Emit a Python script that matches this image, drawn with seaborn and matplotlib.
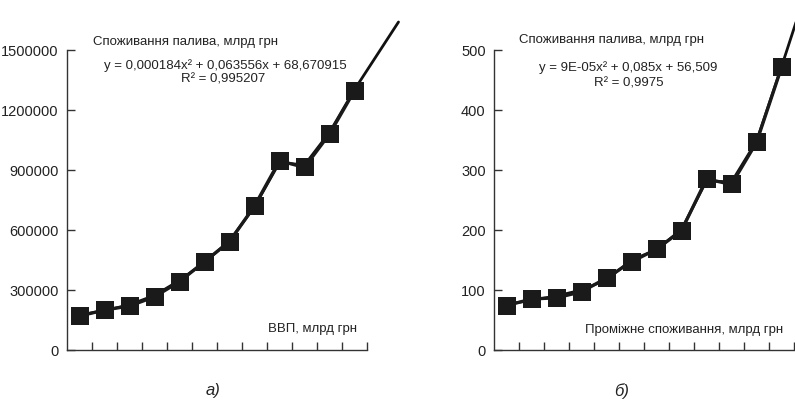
import numpy as np
import pandas as pd
import matplotlib
matplotlib.use("Agg")
import matplotlib.pyplot as plt
import seaborn as sns

# ---- data ----
periods = list(range(1, 13))
fuel_vs_gdp = [170000, 200000, 220000, 266000, 342000, 442000, 542000,
               720000, 946000, 913000, 1080000, 1297000]
fuel_vs_interm = [74, 85, 87, 97, 120, 147, 168, 199, 285, 276, 346, 471]

# trendline (plotted at the same periods + forecast)
trend_periods_left = periods + [13.76]
trend_left = [175000, 197000, 226000, 273000, 348000, 438000, 546000,
              716000, 938000, 925000, 1088000, 1302000, 1640000]
trend_periods_right = periods + [13.0]
trend_right = [76, 83, 90, 100, 117, 150, 167, 201, 282, 280, 348, 472, 600]

left_ticks = [0, 300000, 600000, 900000, 1200000, 1500000]
right_ticks = [0, 100, 200, 300, 400, 500]

title_text = "Споживання палива, млрд грн"
left_eq = "y = 0,000184x² + 0,063556x + 68,670915"
left_r2 = "R² = 0,995207"
right_eq = "y = 9E-05x² + 0,085x + 56,509"
right_r2 = "R² = 0,9975"
left_xlabel = "ВВП, млрд грн"
right_xlabel = "Проміжне споживання, млрд грн"
left_caption = "а)"
right_caption = "б)"

sns.set_theme(style="white")
plt.rcParams["font.family"] = ["Liberation Sans", "DejaVu Sans"]

W, H = 795, 403
fig = plt.figure(figsize=(W / 100, H / 100), dpi=100)


def fx(x):
    return x / W


def fy(y):
    return 1 - y / H


def make_panel(x0, values, ticks, t_periods, t_values):
    ax = fig.add_axes([fx(x0), fy(350), 300 / W, 300 / H])
    df = pd.DataFrame({"period": periods, "value": values})
    tr = pd.DataFrame({"period": t_periods, "value": t_values})
    sns.lineplot(data=tr, x="period", y="value", ax=ax, color="#111111",
                 linewidth=2.0, clip_on=False, zorder=2)
    sns.lineplot(data=df, x="period", y="value", ax=ax, color="#1a1a1a",
                 linewidth=2.4, marker="s", markersize=12.5,
                 markeredgewidth=0, markerfacecolor="#1a1a1a",
                 clip_on=False, zorder=3)
    ax.set_xlim(0.5, 12.5)
    ax.set_ylim(ticks[0], ticks[-1])
    ax.set_xticks(np.arange(1.5, 12.6, 1.0))
    ax.set_xticklabels([])
    ax.set_yticks(ticks)
    ax.set_yticklabels([str(t) for t in ticks])
    ax.set_xlabel("")
    ax.set_ylabel("")
    for s in ["top", "right"]:
        ax.spines[s].set_visible(False)
    for s in ["left", "bottom"]:
        ax.spines[s].set_color("#333333")
        ax.spines[s].set_linewidth(1.0)
    ax.tick_params(axis="both", direction="in", length=6, width=1.0,
                   color="#333333", left=True, bottom=True)
    ax.tick_params(axis="y", labelsize=10.5, pad=6, labelcolor="#222222")
    ax.grid(False)
    ax.patch.set_alpha(0)
    return ax


ax1 = make_panel(67, fuel_vs_gdp, left_ticks, trend_periods_left, trend_left)
ax2 = make_panel(494, fuel_vs_interm, right_ticks, trend_periods_right,
                 trend_right)

txt = dict(color="#222222", fontsize=9.5)
fig.text(fx(93), fy(42), title_text, ha="left", va="center", **txt)
fig.text(fx(225), fy(66), left_eq, ha="center", va="center", **txt)
fig.text(fx(223), fy(80), left_r2, ha="center", va="center", **txt)
fig.text(fx(357), fy(329), left_xlabel, ha="right", va="center", **txt)

fig.text(fx(519), fy(40), title_text, ha="left", va="center", **txt)
fig.text(fx(628), fy(68), right_eq, ha="center", va="center", **txt)
fig.text(fx(629), fy(83), right_r2, ha="center", va="center", **txt)
fig.text(fx(783), fy(330), right_xlabel, ha="right", va="center", **txt)

fig.text(fx(213), fy(391), left_caption, ha="center", va="center",
         fontsize=12, style="italic", color="#222222")
fig.text(fx(622), fy(391), right_caption, ha="center", va="center",
         fontsize=12, style="italic", color="#222222")

fig.savefig("out.png", dpi=100)
